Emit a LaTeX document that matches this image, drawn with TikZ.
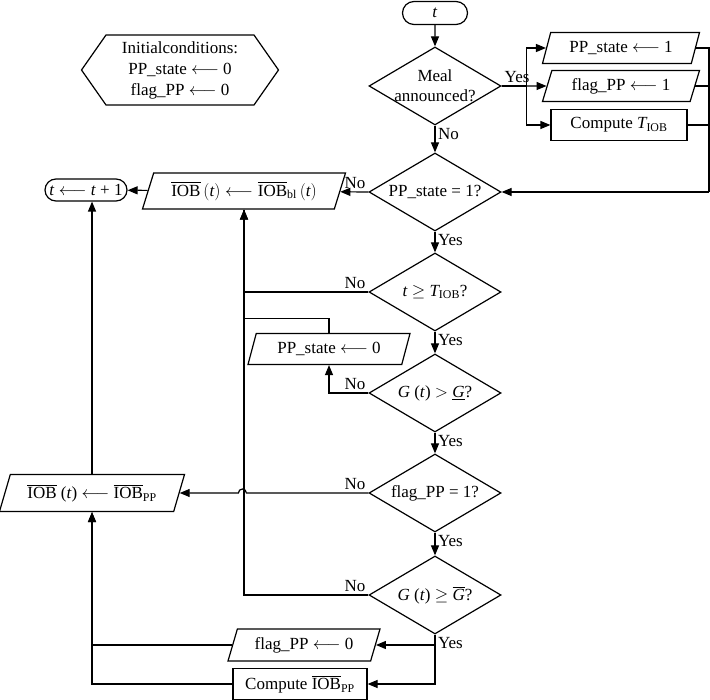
\documentclass[tikz,border=0pt]{standalone}
\usepackage{amsmath}
\usepackage{fontspec}
\setmainfont{Liberation Serif}
\usepackage{tikz}
\usetikzlibrary{positioning,shapes.geometric,shapes.misc,shapes.symbols,arrows.meta}
\tikzset{
  termin/.style={draw, rounded rectangle, inner sep=0pt, minimum width=65pt, minimum height=23pt},
  decide/.style={draw, diamond, aspect=1.7, inner sep=-5pt, minimum width=132pt, minimum height=78pt, align=center},
  iobox/.style={draw, trapezium, trapezium left angle=62, trapezium right angle=118, trapezium stretches body, inner sep=1pt, minimum height=31pt},
  procbox/.style={draw, rectangle, inner sep=1pt, minimum height=31pt},
  initbox/.style={draw, signal, signal to=west and east, signal pointer angle=110, inner sep=1pt, align=center, font=\fontsize{17}{21}\selectfont},
  lbl/.style={inner sep=2.5pt},
  arrow/.style={-{Triangle[length=10pt,width=8pt]}}
}

\begin{document}
\begin{tikzpicture}[x=1pt, y=-1pt, line width=1.2pt, font=\fontsize{17}{20}\selectfont]
  \useasboundingbox (0,0) rectangle (710,700);

  \node[initbox, minimum width=197pt, minimum height=70pt] (init) at (180,70) {Initialconditions:\\PP\_state $\longleftarrow$ 0\\flag\_PP $\longleftarrow$ 0};

  \node[termin] (start) at (435,13) {\textit{t}};
  \node[decide] (meal) at (435,86) {Meal\\announced?};
  \node[iobox, minimum width=157pt] (ppone) at (621,48) {PP\_state $\longleftarrow$ 1};
  \node[iobox, minimum width=157pt] (flagone) at (621,86) {flag\_PP $\longleftarrow$ 1};
  \node[procbox, minimum width=136pt] (ctiob) at (619,125) {Compute $\textit{T}_{\text{IOB}}$};
  \coordinate (rail) at (709,192);

  \node[decide] (ppchk) at (435,192) {PP\_state = 1?};
  \node[iobox, minimum width=203pt, minimum height=36pt] (iobbl) at (244,191) {$\overline{\text{IOB}}\,(\textit{t}) \longleftarrow \overline{\text{IOB}}_{\text{bl}}\,(\textit{t})$};
  \node[termin, minimum width=82pt, minimum height=22pt] (tinc) at (86,190) {\textit{t} $\longleftarrow$ \textit{t} + 1};

  \node[decide] (tchk) at (435,292) {\textit{t} $\geq$ $\textit{T}_{\text{IOB}}$?};
  \node[iobox, minimum width=162pt] (ppzero) at (329,349) {PP\_state $\longleftarrow$ 0};
  \node[decide] (gchk) at (435,393) {\textit{G} (\textit{t}) $>$ \underline{\textit{G}}?};
  \node[decide] (flagchk) at (435,493) {flag\_PP = 1?};
  \node[iobox, minimum width=185pt, minimum height=37pt] (iobpp) at (92,493) {$\overline{\text{IOB}}$ (\textit{t}) $\longleftarrow$ $\overline{\text{IOB}}_{\text{PP}}$};
  \node[decide] (gmaxchk) at (435,595) {\textit{G} (\textit{t}) $\geq$ $\overline{\textit{G}}$?};
  \node[iobox, minimum width=152pt, minimum height=32pt] (flagzero) at (304,645) {flag\_PP $\longleftarrow$ 0};
  \node[procbox, minimum width=134pt] (ciobpp) at (300,684) {Compute $\overline{\text{IOB}}_{\text{PP}}$};

  \draw[arrow] (start) -- (meal);
  \draw[arrow] (meal.east) node[lbl, anchor=south west] {Yes} -- ++(25,0) |- (ppone);
  \draw[arrow] (meal.east) -- (flagone);
  \draw[arrow] (meal.east) ++(25,0) |- (ctiob);
  \draw (ppone.east) -- (ppone.east -| rail) -- (rail);
  \draw (flagone.east) -- (flagone.east -| rail);
  \draw (ctiob.east) -- (ctiob.east -| rail);
  \draw[arrow] (rail) -- (ppchk.east);
  \draw[arrow] (meal.south) node[lbl, anchor=north west] {No} -- (ppchk);

  \draw[arrow] (ppchk.west) node[lbl, anchor=south east] {No} -- (iobbl);
  \draw[arrow] (iobbl) -- (tinc);
  \draw[arrow] (ppchk.south) node[lbl, anchor=north west] {Yes} -- (tchk);
  \draw[arrow] (tchk.west) node[lbl, anchor=south east] {No} -| (iobbl.south);
  \draw[arrow] (tchk.south) node[lbl, anchor=north west] {Yes} -- (gchk);
  \draw (ppzero.north) -- ++(0,-14) -| (iobbl.south);
  \draw[arrow] (gchk.west) node[lbl, anchor=south east] {No} -| (ppzero.south);
  \draw[arrow] (gchk.south) node[lbl, anchor=north west] {Yes} -- (flagchk);
  \draw[arrow] (flagchk.west) node[lbl, anchor=south east] {No} -- ++(-122,0) arc[start angle=0, end angle=-180, radius=4] -- (iobpp.east);
  \draw[arrow] (flagchk.south) node[lbl, anchor=north west] {Yes} -- (gmaxchk);
  \draw[arrow] (gmaxchk.west) node[lbl, anchor=south east] {No} -| (iobbl.south);
  \draw[arrow] (gmaxchk.south) node[lbl, anchor=north west] {Yes} |- (flagzero);
  \draw[arrow] (gmaxchk.south) |- (ciobpp);
  \draw[arrow] (flagzero.west) -| (iobpp.south);
  \draw[arrow] (ciobpp.west) -| (iobpp.south);
  \draw[arrow] (iobpp.north) -- (iobpp.north |- tinc.south);
\end{tikzpicture}
\end{document}
